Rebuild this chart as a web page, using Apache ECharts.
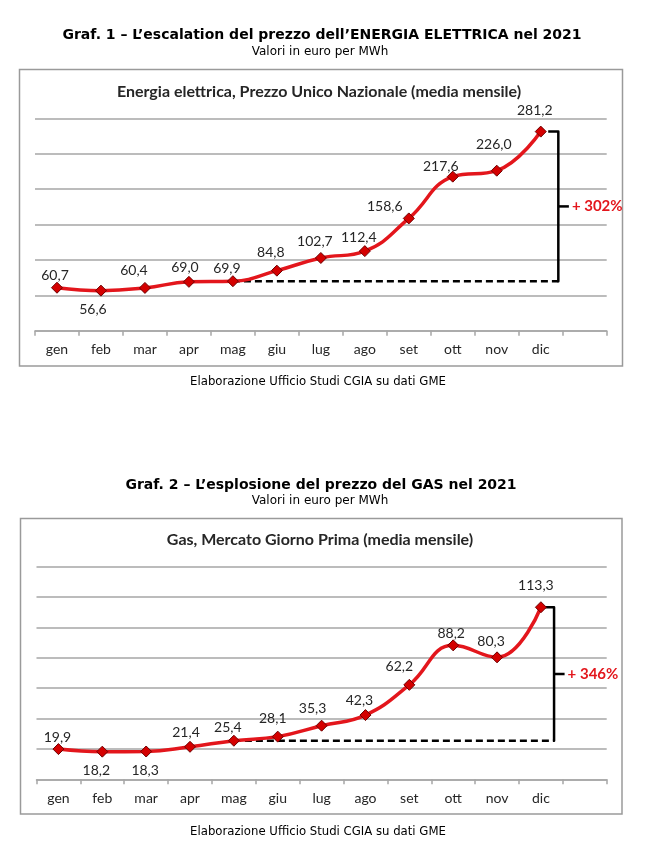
<!DOCTYPE html>
<html>
<head>
<meta charset="utf-8">
<script src="https://cdn.jsdelivr.net/npm/echarts@6/dist/echarts.min.js"></script>
<style>
html,body{margin:0;padding:0;background:#fff;}
#c{width:656px;height:845px;}
</style>
</head>
<body>
<div id="c"></div>
<script>
// ---- data ----
var months = ['gen','feb','mar','apr','mag','giu','lug','ago','set','ott','nov','dic'];
var energyValues = [60.7, 56.6, 60.4, 69.0, 69.9, 84.8, 102.7, 112.4, 158.6, 217.6, 226.0, 281.2];
var gasValues = [19.9, 18.2, 18.3, 21.4, 25.4, 28.1, 35.3, 42.3, 62.2, 88.2, 80.3, 113.3];
var energyAxis = {min: 0, max: 300, interval: 50};
var gasAxis = {min: 0, max: 140, interval: 20};
var baseIndex = 4;   // mag
var peakIndex = 11;  // dic
var energyChange = '+ 302%';
var gasChange = '+ 346%';
var heading1 = 'Graf. 1 \u2013 L\u2019escalation del prezzo dell\u2019ENERGIA ELETTRICA nel 2021';
var heading2 = 'Graf. 2 \u2013 L\u2019esplosione del prezzo del GAS nel 2021';
var subtitle = 'Valori in euro per MWh';
var title1 = 'Energia elettrica, Prezzo Unico Nazionale (media mensile)';
var title2 = 'Gas, Mercato Giorno Prima (media mensile)';
var source = 'Elaborazione Ufficio Studi CGIA su dati GME';

// ---- layout (label offsets relative to point) ----
var energyLabelOffsets = [[-2,-12],[-8,19],[-11,-17],[-4,-14],[-6,-13],[-6,-18],[-6,-17],[-6,-14],[-24,-12],[-12,-10],[-3,-26],[-6,-21]];
var gasLabelOffsets = [[-1,-12],[-6,19],[-1,19],[-4,-14],[-6,-13],[-5,-18],[-9,-17],[-6,-15],[-10,-18],[-2,-12],[-6,-16],[-5,-22]];

var fmt = function (v) { return v.toFixed(1).replace('.', ','); };
var cats = months.concat(['']);
var RED = '#e3161c';
var GRID = '#a6a6a6';
var TXT = '#262626';
var LFONT = 'Lato';

function buildSeries(gi, values, offsets, change, bx) {
  var data = values.map(function (v, i) {
    return {value: v, label: {offset: offsets[i]}};
  });
  var base = values[baseIndex];
  var peak = values[peakIndex];
  var mid = (base + peak) / 2;
  return [
    {
      type: 'line', xAxisIndex: gi * 2, yAxisIndex: gi, data: data,
      smooth: 0.45, z: 5,
      lineStyle: {color: RED, width: 3.5},
      symbol: 'diamond', symbolSize: 11,
      itemStyle: {color: '#d40000', borderColor: '#6e0000', borderWidth: 1},
      label: {show: true, position: 'inside', align: 'center', verticalAlign: 'middle',
        formatter: function (p) { return fmt(p.value); },
        fontFamily: LFONT, fontSize: 14, color: TXT},
      emphasis: {disabled: true}, animation: false
    },
    {
      type: 'line', xAxisIndex: gi * 2 + 1, yAxisIndex: gi,
      data: [[baseIndex, base], [bx, base]],
      symbol: 'none', z: 3,
      lineStyle: {color: '#000', width: 2.5, type: [7, 4]},
      animation: false, silent: true
    },
    {
      type: 'line', xAxisIndex: gi * 2 + 1, yAxisIndex: gi,
      data: [[bx - 0.23, peak], [bx, peak], [bx, base], [bx - 0.02, base]],
      symbol: 'none', z: 4,
      lineStyle: {color: '#000', width: 2.5, join: 'round'},
      animation: false, silent: true
    },
    {
      type: 'line', xAxisIndex: gi * 2 + 1, yAxisIndex: gi,
      data: [[bx, mid], [bx + 0.24, mid]],
      symbol: 'none', z: 4,
      lineStyle: {color: '#000', width: 2.5},
      endLabel: {show: true, distance: 3, formatter: change,
        fontFamily: LFONT, fontWeight: 'bold', fontSize: 15, color: RED},
      animation: false, silent: true
    }
  ];
}

function catAxis(gi) {
  return {
    type: 'category', gridIndex: gi, data: cats, boundaryGap: true,
    axisLine: {lineStyle: {color: GRID, width: 1.5}},
    axisTick: {show: true, length: 5, lineStyle: {color: GRID, width: 1.5}},
    axisLabel: {fontFamily: LFONT, fontSize: 14, color: TXT, margin: 12, interval: 0}
  };
}
function valXAxis(gi) {
  return {type: 'value', gridIndex: gi, min: -0.5, max: 12.5, show: false};
}
function valYAxis(gi, ax) {
  return {
    type: 'value', gridIndex: gi, min: ax.min, max: ax.max, interval: ax.interval,
    axisLine: {show: false}, axisTick: {show: false}, axisLabel: {show: false},
    splitLine: {lineStyle: {color: GRID, width: 1.5}}
  };
}

var chart = echarts.init(document.getElementById('c'), null, {renderer: 'canvas'});
chart.setOption({
  animation: false,
  backgroundColor: '#fff',
  grid: [
    {left: 35, right: 49.3, top: 118.3, height: 212.4},
    {left: 36.5, right: 49.3, top: 566.7, height: 212.6}
  ],
  xAxis: [catAxis(0), valXAxis(0), catAxis(1), valXAxis(1)],
  yAxis: [valYAxis(0, energyAxis), valYAxis(1, gasAxis)],
  series: [].concat(
    buildSeries(0, energyValues, energyLabelOffsets, energyChange, 11.4),
    buildSeries(1, gasValues, gasLabelOffsets, gasChange, 11.3)
  ),
  graphic: [
    {type: 'rect', shape: {x: 19.5, y: 69.5, width: 603, height: 296.5}, z: -1,
      style: {fill: 'none', stroke: '#9a9a9a', lineWidth: 1.5}},
    {type: 'rect', shape: {x: 20.5, y: 518.5, width: 601.5, height: 295.5}, z: -1,
      style: {fill: 'none', stroke: '#9a9a9a', lineWidth: 1.5}},
    {type: 'text', x: 322, y: 35, style: {text: heading1, align: 'center', verticalAlign: 'middle',
      font: 'bold 14px "DejaVu Sans"', fill: '#000'}},
    {type: 'text', x: 320, y: 52, style: {text: subtitle, align: 'center', verticalAlign: 'middle',
      font: '12px "DejaVu Sans"', fill: '#000'}},
    {type: 'text', x: 319, y: 92, style: {text: title1, align: 'center', verticalAlign: 'middle',
      font: 'bold 16px Lato', fill: TXT}},
    {type: 'text', x: 318, y: 382, style: {text: source, align: 'center', verticalAlign: 'middle',
      font: '13px "DejaVu Sans Condensed"', fill: '#000'}},
    {type: 'text', x: 321, y: 485, style: {text: heading2, align: 'center', verticalAlign: 'middle',
      font: 'bold 14px "DejaVu Sans"', fill: '#000'}},
    {type: 'text', x: 320, y: 501, style: {text: subtitle, align: 'center', verticalAlign: 'middle',
      font: '12px "DejaVu Sans"', fill: '#000'}},
    {type: 'text', x: 320, y: 540, style: {text: title2, align: 'center', verticalAlign: 'middle',
      font: 'bold 16px Lato', fill: TXT}},
    {type: 'text', x: 318, y: 832, style: {text: source, align: 'center', verticalAlign: 'middle',
      font: '13px "DejaVu Sans Condensed"', fill: '#000'}}
  ]
});
</script>
</body>
</html>
